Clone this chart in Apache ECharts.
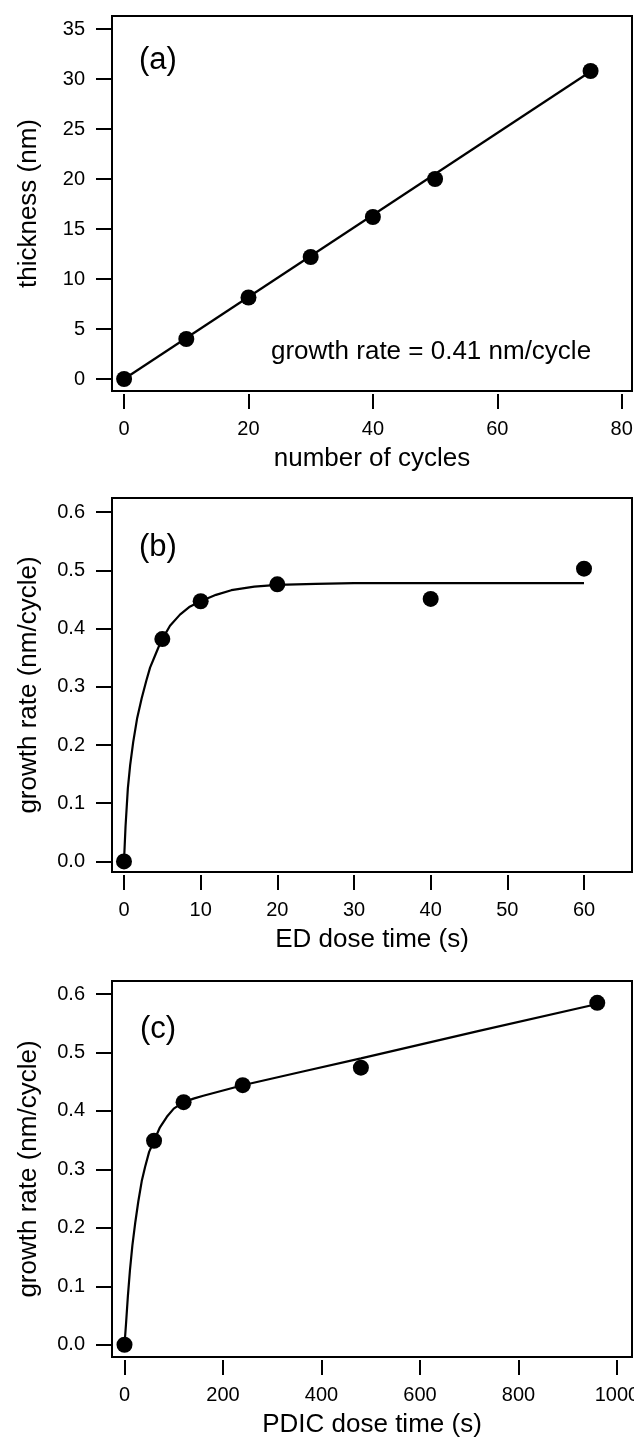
<!DOCTYPE html>
<html>
<head>
<meta charset="utf-8">
<script src="https://cdn.jsdelivr.net/npm/echarts@6/dist/echarts.min.js"></script>
<style>
  html, body { margin: 0; padding: 0; background: #fff; }
  #chart { width: 634px; height: 1441px; }
</style>
</head>
<body>
<div id="chart"></div>
<script>
// (a) film thickness vs number of deposition cycles
const cyclesA = [0, 10, 20, 30, 40, 50, 75];
const thicknessA = [0, 4.0, 8.15, 12.2, 16.2, 20.0, 30.8];
const fitCyclesA = [0, 75];
const fitThicknessA = [0, 30.75];
const xTicksA = [0, 20, 40, 60, 80];
const yTicksA = [0, 5, 10, 15, 20, 25, 30, 35];
const rateNote = 'growth rate = 0.41 nm/cycle';

// (b) growth rate vs ED dose time
const doseB = [0, 5, 10, 20, 40, 60];
const rateB = [0, 0.382, 0.447, 0.476, 0.451, 0.503];
const curveDoseB = [0, 0.2, 0.5, 0.8, 1.2, 1.7, 2.3, 2.9, 3.4, 4.0, 4.5, 5.0, 6.0, 7.3, 8.5, 10, 12, 14, 17, 20, 25, 30, 40, 60];
const curveRateB = [0, 0.06, 0.125, 0.165, 0.205, 0.245, 0.28, 0.31, 0.333, 0.352, 0.368, 0.382, 0.405, 0.424, 0.437, 0.447, 0.458, 0.466, 0.472, 0.475, 0.477, 0.478, 0.478, 0.478];
const xTicksB = [0, 10, 20, 30, 40, 50, 60];
const yTicksB = [0, 0.1, 0.2, 0.3, 0.4, 0.5, 0.6];

// (c) growth rate vs PDIC dose time
const doseC = [0, 60, 120, 240, 480, 960];
const rateC = [0, 0.349, 0.415, 0.444, 0.474, 0.585];
const curveDoseC = [0, 3, 7, 11, 16, 22, 28, 35, 42, 50, 60, 72, 86, 100, 120, 140, 160, 200, 240, 360, 480, 720, 960];
const curveRateC = [0, 0.035, 0.085, 0.127, 0.17, 0.21, 0.245, 0.28, 0.305, 0.33, 0.349, 0.372, 0.390, 0.404, 0.415, 0.421, 0.426, 0.435, 0.444, 0.467, 0.490, 0.537, 0.583];
const xTicksC = [0, 200, 400, 600, 800, 1000];
const yTicksC = [0, 0.1, 0.2, 0.3, 0.4, 0.5, 0.6];

const FONT = "'Liberation Sans', Arial, sans-serif";
const pairs = (xs, ys) => xs.map((x, i) => [x, ys[i]]);

function boxGrid(top, height) {
  return { left: 112, top: top, width: 520, height: height, show: true,
           containLabel: false, outerBoundsMode: 'none',
           borderColor: '#000', borderWidth: 2, backgroundColor: 'transparent' };
}

function xAxisCfg(gi, min, max, ticks, name) {
  return {
    type: 'value', gridIndex: gi, min: min, max: max, position: 'bottom', offset: 3,
    axisLine: { show: false, onZero: false },
    splitLine: { show: false },
    axisTick: { show: true, length: 15, lineStyle: { color: '#000', width: 2 }, customValues: ticks },
    axisLabel: { customValues: ticks, margin: 25, color: '#000', fontSize: 20, fontFamily: FONT,
                 hideOverlap: false, formatter: v => String(v) },
    name: name, nameLocation: 'middle', nameGap: 52,
    nameTextStyle: { color: '#000', fontSize: 26, fontFamily: FONT }
  };
}

function yAxisCfg(gi, min, max, ticks, name, digits) {
  return {
    type: 'value', gridIndex: gi, min: min, max: max, position: 'left',
    axisLine: { show: false, onZero: false },
    splitLine: { show: false },
    axisTick: { show: true, length: 16, lineStyle: { color: '#000', width: 2 }, customValues: ticks },
    axisLabel: { customValues: ticks, margin: 27, color: '#000', fontSize: 20, fontFamily: FONT,
                 formatter: v => Number(v).toFixed(digits) },
    name: name, nameLocation: 'middle', nameGap: 70,
    nameTextStyle: { color: '#000', fontSize: 26, fontFamily: FONT }
  };
}

function lineSeries(gi, data) {
  return { type: 'line', xAxisIndex: gi, yAxisIndex: gi, data: data, symbol: 'none',
           smooth: false, lineStyle: { color: '#000', width: 2.2 },
           animation: false, silent: true, z: 2 };
}

function dotSeries(gi, data) {
  return { type: 'scatter', xAxisIndex: gi, yAxisIndex: gi, data: data, symbol: 'circle',
           symbolSize: 16, itemStyle: { color: '#000', opacity: 1 },
           animation: false, silent: true, z: 3 };
}

const option = {
  backgroundColor: '#fff',
  animation: false,
  grid: [boxGrid(16, 375), boxGrid(498, 374), boxGrid(981, 376)],
  xAxis: [
    xAxisCfg(0, -1.945, 81.66, xTicksA, 'number of cycles'),
    xAxisCfg(1, -1.565, 66.26, xTicksB, 'ED dose time (s)'),
    xAxisCfg(2, -25.4, 1030.5, xTicksC, 'PDIC dose time (s)')
  ],
  yAxis: [
    yAxisCfg(0, -1.2, 36.3, yTicksA, 'thickness (nm)', 0),
    yAxisCfg(1, -0.0182, 0.6244, yTicksB, 'growth rate (nm/cycle)', 1),
    yAxisCfg(2, -0.021, 0.6223, yTicksC, 'growth rate (nm/cycle)', 1)
  ],
  series: [
    lineSeries(0, pairs(fitCyclesA, fitThicknessA)),
    dotSeries(0, pairs(cyclesA, thicknessA)),
    lineSeries(1, pairs(curveDoseB, curveRateB)),
    dotSeries(1, pairs(doseB, rateB)),
    lineSeries(2, pairs(curveDoseC, curveRateC)),
    dotSeries(2, pairs(doseC, rateC))
  ],
  graphic: [
    { type: 'text', left: 139, top: 45, style: { text: '(a)', font: '31px ' + FONT, fill: '#000' } },
    { type: 'text', left: 139, top: 532, style: { text: '(b)', font: '31px ' + FONT, fill: '#000' } },
    { type: 'text', left: 140, top: 1014, style: { text: '(c)', font: '31px ' + FONT, fill: '#000' } },
    { type: 'text', left: 271, top: 339, style: { text: rateNote, font: '26px ' + FONT, fill: '#000' } }
  ]
};

const chart = echarts.init(document.getElementById('chart'), null, { renderer: 'canvas' });
chart.setOption(option);
</script>
</body>
</html>
